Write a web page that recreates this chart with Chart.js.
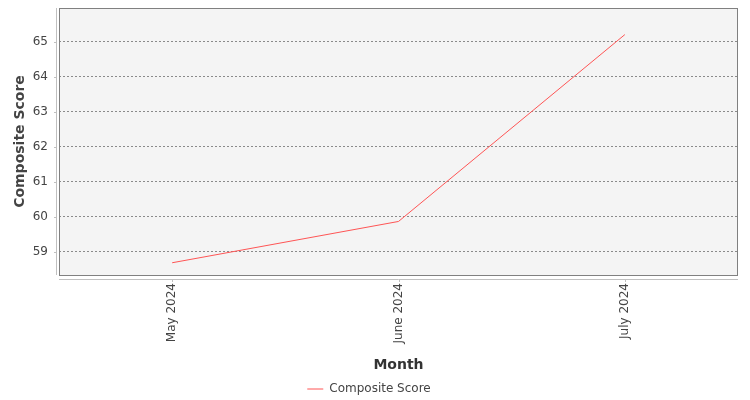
<!DOCTYPE html>
<html>
<head>
<meta charset="utf-8">
<script src="https://cdn.jsdelivr.net/npm/chart.js@4/dist/chart.umd.min.js"></script>
<style>
  html, body { margin: 0; padding: 0; background: #ffffff; }
  #wrap { width: 750px; height: 400px; }
</style>
</head>
<body>
<div id="wrap"><canvas id="myChart"></canvas></div>
<script>
// datos
const months = ['May 2024', 'June 2024', 'July 2024'];
const compositeScore = [58.69, 59.87, 65.21];
const yTicks = [59, 60, 61, 62, 63, 64, 65];

const fontName = "'DejaVu Sans', sans-serif";

// fondo del area, marco y ejes separados (estilo JFreeChart)
const plotFrame = {
  id: 'plotFrame',
  beforeDraw(chart) {
    const {ctx, chartArea: a} = chart;
    ctx.save();
    ctx.fillStyle = '#f4f4f4';
    ctx.fillRect(a.left, a.top, a.right - a.left, a.bottom - a.top);
    ctx.restore();
  },
  afterDraw(chart) {
    const {ctx, chartArea: a, scales} = chart;
    ctx.save();
    ctx.strokeStyle = '#808080';
    ctx.lineWidth = 1;
    ctx.strokeRect(a.left + 0.5, a.top + 0.5, a.right - a.left - 1, a.bottom - a.top);
    // ejes
    ctx.strokeStyle = '#c0c0c0';
    ctx.beginPath();
    ctx.moveTo(a.left - 2.5, a.top);
    ctx.lineTo(a.left - 2.5, a.bottom);
    ctx.moveTo(a.left, a.bottom + 4.5);
    ctx.lineTo(a.right, a.bottom + 4.5);
    // marcas
    yTicks.forEach(v => {
      const y = Math.round(scales.y.getPixelForValue(v)) + 0.5;
      ctx.moveTo(a.left - 2.5, y);
      ctx.lineTo(a.left - 5, y);
    });
    months.forEach((m, i) => {
      const x = Math.round(scales.x.getPixelForValue(i)) + 0.5;
      ctx.moveTo(x, a.bottom + 4.5);
      ctx.lineTo(x, a.bottom + 7);
    });
    ctx.stroke();
    ctx.restore();
  }
};

new Chart(document.getElementById('myChart'), {
  type: 'line',
  data: {
    labels: months,
    datasets: [{
      label: 'Composite Score',
      data: compositeScore,
      borderColor: '#ff5555',
      backgroundColor: '#ff5555',
      borderWidth: 1,
      pointRadius: 0,
      tension: 0,
      fill: false
    }]
  },
  options: {
    responsive: true,
    maintainAspectRatio: false,
    animation: false,
    layout: { padding: { top: 8, right: 12, left: 0, bottom: -5 } },
    scales: {
      x: {
        offset: true,
        grid: { display: false, drawTicks: false },
        border: { display: false },
        ticks: {
          minRotation: 90, maxRotation: 90, padding: 8,
          color: '#444444', font: { family: fontName, size: 12 }
        },
        title: {
          display: true, text: 'Month', color: '#333333',
          font: { family: fontName, size: 14, weight: 'bold' },
          padding: { top: 4, bottom: 5 }
        },
        afterFit(scale) {
          scale.height = 104;
          scale.paddingLeft = 0;
          scale.paddingRight = 0;
        }
      },
      y: {
        min: 58.34,
        max: 65.97,
        afterBuildTicks(scale) { scale.ticks = yTicks.map(v => ({ value: v })); },
        grid: { color: '#8a8a8a', lineWidth: 1, drawTicks: false },
        border: { display: false, dash: [2, 2] },
        ticks: {
          padding: 11, color: '#444444',
          font: { family: fontName, size: 12 }
        },
        title: {
          display: true, text: 'Composite Score', color: '#444444',
          font: { family: fontName, size: 14, weight: 'bold' },
          padding: { top: 12, bottom: 0 }
        },
        afterFit(scale) {
          scale.width = 59;
          scale.paddingTop = 0;
          scale.paddingBottom = 0;
        }
      }
    },
    plugins: {
      legend: {
        position: 'bottom',
        labels: {
          usePointStyle: true, pointStyle: 'line', pointStyleWidth: 16,
          boxHeight: 12, padding: 4, color: '#444444',
          font: { family: fontName, size: 12 }
        }
      },
      tooltip: { enabled: false }
    }
  },
  plugins: [plotFrame]
});
</script>
</body>
</html>
